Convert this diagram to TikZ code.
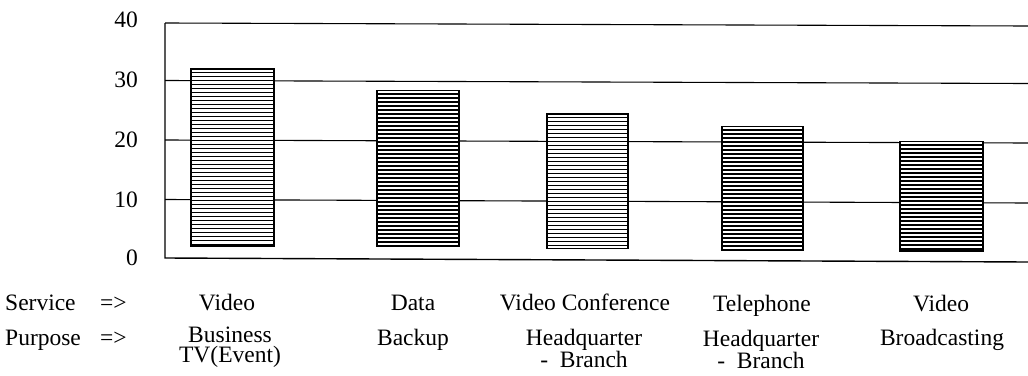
\documentclass[tikz,border=0pt]{standalone}
\usepackage{fontspec}
\setmainfont{Liberation Serif}
\begin{document}
\begin{tikzpicture}[x=1pt,y=-1pt,
  gridline/.style={line width=1.1pt},
  axisline/.style={line width=1.4pt},
  barframe/.style={line width=1.8pt, fill=white},
  hatch/.style={line width=1.1pt},
  lbl/.style={font=\fontsize{23.5}{25}\selectfont, inner sep=0pt, anchor=base},
  lblw/.style={lbl, anchor=base west},
  lbltwo/.style={font=\fontsize{23.5}{20.5}\selectfont, inner sep=0pt, align=center, anchor=north},
  tick/.style={lbl, anchor=base east}]
\useasboundingbox (0,0) rectangle (1028,375);

% axes and grid
\coordinate (ytop) at (165,23);
\coordinate (orig) at (165,258);
\coordinate (xend) at (1028,262);
\draw[axisline] (ytop) -- (orig) -- (xend);
\draw[gridline] (ytop) -- (1028,26);
\draw[gridline] (165,80.5) -- (1028,83.5);
\draw[gridline] (165,140) -- (1028,143);
\draw[gridline] (165,199.5) -- (1028,203);

% tick labels
\node[tick] (t40) at (138,27) {40};
\node[tick] (t30) at (138,87) {30};
\node[tick] (t20) at (138,147) {20};
\node[tick] (t10) at (138,207) {10};
\node[tick] (t0)  at (138,265) {0};

% bars
\foreach \l/\r/\t/\b in {191/274/69/246, 377/459/90.5/246.5, 547/628/114/248.5, 722/803/126.5/250, 900/983/141.5/251}{
  \draw[barframe] (\l,\t) rectangle (\r,\b);
  \begin{scope}
    \clip (\l,\t) rectangle (\r,\b);
    \foreach \k in {0,...,46}{
      \draw[hatch] (\l,\t+3.5+4*\k) -- (\r,\t+3.5+4*\k);
    }
  \end{scope}
  \draw[barframe, fill=none] (\l,\t) rectangle (\r,\b);
}

% row headers
\node[lblw] (svc) at (5,310) {Service};
\node[lblw] (svcarr) at (100,310) {=>};
\node[lblw] (pur) at (5,345) {Purpose};
\node[lblw] (purarr) at (100,345) {=>};

% service labels
\node[lbl] (s1) at (227,310) {Video};
\node[lbl] (s2) at (413,310) {Data};
\node[lbl] (s3) at (585,310) {Video Conference};
\node[lbl] (s4) at (762,311) {Telephone};
\node[lbl] (s5) at (941,311) {Video};

% purpose labels
\node[lbltwo] (p1) at (230,326.5) {Business\\TV(Event)};
\node[lbl] (p2)  at (413,345) {Backup};
\node[lbltwo] (p3) at (584,329) {Headquarter\\-~~Branch};
\node[lbltwo] (p4) at (761,330) {Headquarter\\-~~Branch};
\node[lbl] (p5)  at (942,345) {Broadcasting};
\end{tikzpicture}
\end{document}
